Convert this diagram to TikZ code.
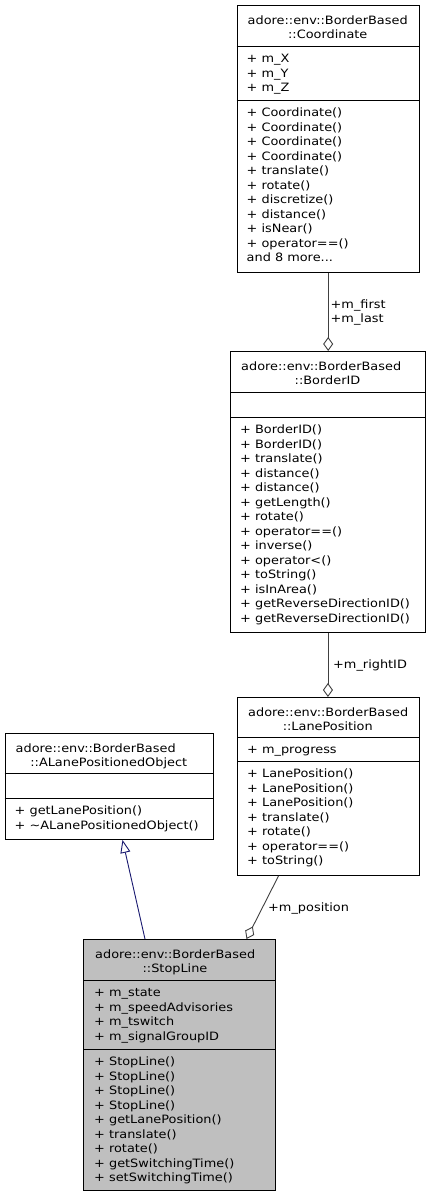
\documentclass[tikz,border=0pt]{standalone}
\usepackage{fontspec}
\setmainfont{DejaVu Sans}[FakeStretch=1.12]
\usetikzlibrary{arrows.meta}
\usetikzlibrary{calc}

\definecolor{edgegray}{HTML}{404040}
\definecolor{inhblue}{HTML}{191970}
\definecolor{focusgray}{HTML}{BFBFBF}

\tikzset{
  classbox/.style={draw=black, line width=0.9pt, rectangle, inner sep=0pt, anchor=north west},
  txt/.style={font=\fontsize{11.5pt}{14.5pt}\selectfont, inner sep=0pt, anchor=base west},
  ttl/.style={txt, anchor=base},
  divider/.style={line width=0.9pt},
  aggr/.style={draw=edgegray, line width=0.9pt, -{Diamond[open, length=14pt, width=10pt]}},
  inherit/.style={draw=inhblue, line width=0.9pt, -{Triangle[open, length=13pt, width=10pt]}},
}

\begin{document}
\begin{tikzpicture}[x=1pt, y=-1pt]
        \path[fill=white, use as bounding box] (0,0) rectangle (431,1197);

        % Coordinate
        \node[classbox, minimum width=182.5pt, minimum height=267pt] (coord) at (236.5,5) {};
        \draw[divider] (coord.west |- 0,46) -- (coord.east |- 0,46);
        \draw[divider] (coord.west |- 0,100) -- (coord.east |- 0,100);
        \node[txt] (coordt1) at (247.5,24) {adore::env::BorderBased};
        \node[ttl] (coordt2) at (327.75,38.5) {::Coordinate};
        \foreach \m [count=\i from 0] in {+ m\_X, + m\_Y, + m\_Z}
          \node[txt] (coorda\i) at (246.5,{62.8+14.5*\i}) {\m};
        \foreach \m [count=\i from 0] in {+ Coordinate(), + Coordinate(), + Coordinate(), + Coordinate(),
            + translate(), + rotate(), + discretize(), + distance(), + isNear(), + operator==()}
          \node[txt] (coordm\i) at (246.5,{116.8+14.5*\i}) {\m};
        \node[txt] (coordmore) at (246.5,261.8) {and 8 more...};

        % BorderID
        \node[classbox, minimum width=195pt, minimum height=281pt] (bid) at (230,351) {};
        \draw[divider] (bid.west |- 0,392) -- (bid.east |- 0,392);
        \draw[divider] (bid.west |- 0,417) -- (bid.east |- 0,417);
        \node[txt] (bidt1) at (241,370) {adore::env::BorderBased};
        \node[ttl] (bidt2) at (327.5,384.5) {::BorderID};
        \foreach \m [count=\i from 0] in {+ BorderID(), + BorderID(), + translate(), + distance(), + distance(),
            + getLength(), + rotate(), + operator==(), + inverse(), + operator<(), + toString(), + isInArea(),
            + getReverseDirectionID(), + getReverseDirectionID()}
          \node[txt] (bidm\i) at (240,{433.8+14.5*\i}) {\m};

        % LanePosition
        \node[classbox, minimum width=181.5pt, minimum height=178pt] (lanepos) at (237,697) {};
        \draw[divider] (lanepos.west |- 0,737) -- (lanepos.east |- 0,737);
        \draw[divider] (lanepos.west |- 0,761) -- (lanepos.east |- 0,761);
        \node[txt] (lanepost1) at (248,716) {adore::env::BorderBased};
        \node[ttl] (lanepost2) at (327.75,730.5) {::LanePosition};
        \node[txt] (laneposa0) at (247,753.8) {+ m\_progress};
        \foreach \m [count=\i from 0] in {+ LanePosition(), + LanePosition(), + LanePosition(),
            + translate(), + rotate(), + operator==(), + toString()}
          \node[txt] (laneposm\i) at (247,{777.8+14.5*\i}) {\m};

        % ALanePositionedObject
        \node[classbox, minimum width=208.5pt, minimum height=106pt] (alane) at (4.5,733) {};
        \draw[divider] (alane.west |- 0,773) -- (alane.east |- 0,773);
        \draw[divider] (alane.west |- 0,798) -- (alane.east |- 0,798);
        \node[txt] (alanet1) at (15.5,752) {adore::env::BorderBased};
        \node[ttl] (alanet2) at (108.75,766.5) {::ALanePositionedObject};
        \node[txt] (alanem0) at (14.5,814.8) {+ getLanePosition()};
        \node[txt] (alanem1) at (14.5,829.3) {+ \textasciitilde ALanePositionedObject()};

        % StopLine
        \node[classbox, fill=focusgray, minimum width=191.5pt, minimum height=251pt] (stopline) at (83,939) {};
        \draw[divider] (stopline.west |- 0,980) -- (stopline.east |- 0,980);
        \draw[divider] (stopline.west |- 0,1049) -- (stopline.east |- 0,1049);
        \node[txt] (stoplinet1) at (95,958) {adore::env::BorderBased};
        \node[ttl] (stoplinet2) at (175,972.5) {::StopLine};
        \foreach \m [count=\i from 0] in {+ m\_state, + m\_speedAdvisories, + m\_tswitch, + m\_signalGroupID}
          \node[txt] (stoplinea\i) at (94,{996.8+14.5*\i}) {\m};
        \foreach \m [count=\i from 0] in {+ StopLine(), + StopLine(), + StopLine(), + StopLine(),
            + getLanePosition(), + translate(), + rotate(), + getSwitchingTime(), + setSwitchingTime()}
          \node[txt] (stoplinem\i) at (94,{1065.8+14.5*\i}) {\m};

        % relations
        \draw[aggr] (coord.south) -- (coord.south |- bid.north);
        \node[txt] (lblfirst) at (330.5,308) {+m\_first};
        \node[txt] (lbllast) at (330.5,322.5) {+m\_last};

        \draw[aggr] (bid.south) -- (bid.south |- lanepos.north);
        \node[txt] (lblright) at (333,668) {+m\_rightID};

        \draw[aggr] ($(lanepos.south west)+(41.5pt,0)$) -- ($(stopline.north west)+(163.5pt,0)$);
        \node[txt] (lblpos) at (268,911) {+m\_position};

        \draw[inherit] ($(stopline.north west)+(62pt,0)$) -- ($(alane.south west)+(118pt,0)$);
\end{tikzpicture}
\end{document}
